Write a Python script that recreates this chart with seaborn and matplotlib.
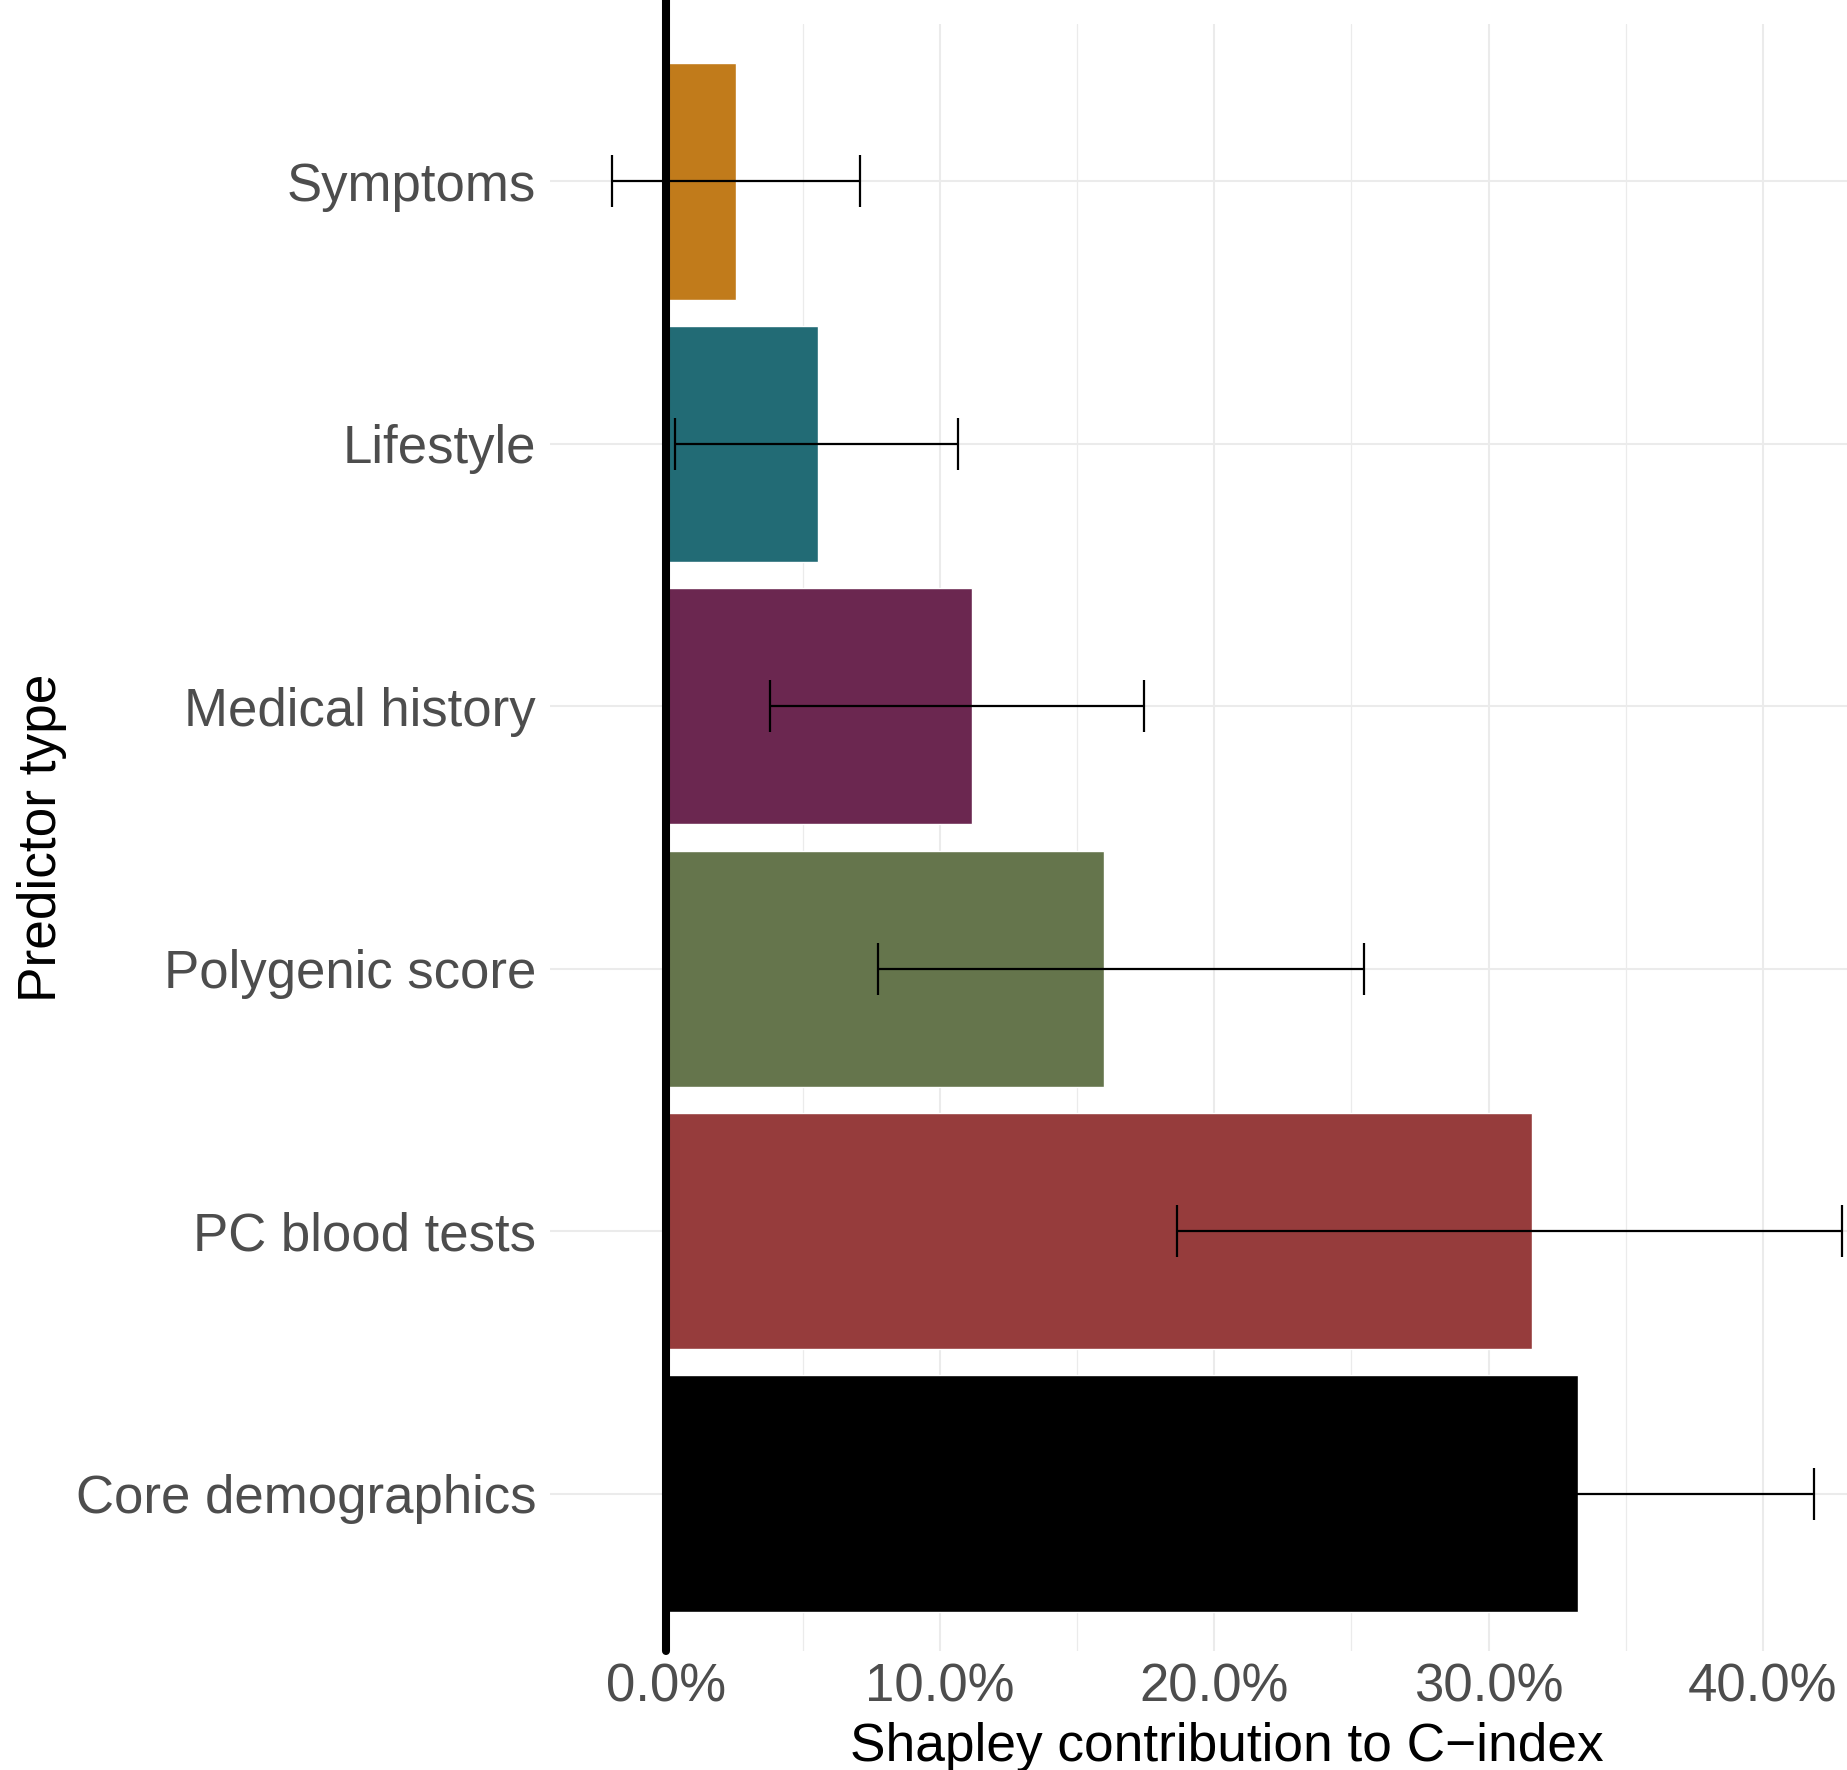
import numpy as np
import pandas as pd
import matplotlib
matplotlib.use("Agg")
import matplotlib.pyplot as plt
import seaborn as sns
from matplotlib.ticker import FuncFormatter, MultipleLocator

# dados (percentual)
categorias = ["Symptoms", "Lifestyle", "Medical history", "Polygenic score",
              "PC blood tests", "Core demographics"]
contribuicao = [2.58, 5.55, 11.17, 15.98, 31.6, 33.26]
erro_inf = [-1.97, 0.35, 3.79, 7.73, 18.65, 24.6]
erro_sup = [7.07, 10.65, 17.43, 25.45, 42.9, 41.87]
cores = ["#C17B1B", "#226B75", "#6B2750", "#65754C", "#963C3C", "#000000"]

df = pd.DataFrame({"tipo": categorias, "valor": contribuicao,
                   "lo": erro_inf, "hi": erro_sup})

sns.set_style("white")
plt.rcParams["font.family"] = ["Liberation Sans", "DejaVu Sans"]

W, H = 1847, 1770
fig = plt.figure(figsize=(W / 100, H / 100), dpi=100)
# painel em pixels: esquerda 550, topo 24, base 1651, direita 1904 (cortado)
ax = fig.add_axes([550 / W, (H - 1651) / H, (1904 - 550) / W, (1651 - 24) / H])

sns.barplot(data=df, y="tipo", x="valor", hue="tipo", palette=cores,
            order=categorias, hue_order=categorias, orient="h",
            errorbar=None, width=0.9, saturation=1, legend=False, ax=ax,
            zorder=2)

# barras de erro
ypos = np.arange(len(categorias))
xerr = [df["valor"] - df["lo"], df["hi"] - df["valor"]]
ax.errorbar(df["valor"], ypos, xerr=xerr, fmt="none", ecolor="black",
            elinewidth=1.6, capsize=19, capthick=1.6, zorder=4)

# linha vertical no zero
ax.axvline(0, ymin=0, ymax=1 + 24 / 1627, color="black", lw=5.8,
           clip_on=False, zorder=5)

# limites com expansao de 5%
lo, hi = min(erro_inf), max(erro_sup)
pad = 0.05 * (hi - lo)
ax.set_xlim(lo - pad, hi + pad)
ax.set_ylim(len(categorias) - 0.4, -0.6)

ax.xaxis.set_major_locator(MultipleLocator(10))
ax.xaxis.set_minor_locator(MultipleLocator(5))
ax.xaxis.set_major_formatter(FuncFormatter(lambda v, p: f"{v:.1f}%"))
ax.grid(True, which="major", axis="both", color="#EBEBEB", lw=1.5, zorder=0)
ax.grid(True, which="minor", axis="x", color="#EBEBEB", lw=0.9, zorder=0)
ax.set_axisbelow(True)
for s in ax.spines.values():
    s.set_visible(False)

ax.tick_params(axis="both", which="both", length=0, labelsize=38,
               labelcolor="#4D4D4D")
ax.tick_params(axis="y", pad=10)
ax.tick_params(axis="x", pad=8)

ax.set_xlabel("Shapley contribution to C\u2212index", fontsize=38.3,
              color="black", labelpad=7)
ax.set_ylabel("Predictor type", fontsize=38.3, color="black", labelpad=6)

fig.savefig("out.png", dpi=100)
